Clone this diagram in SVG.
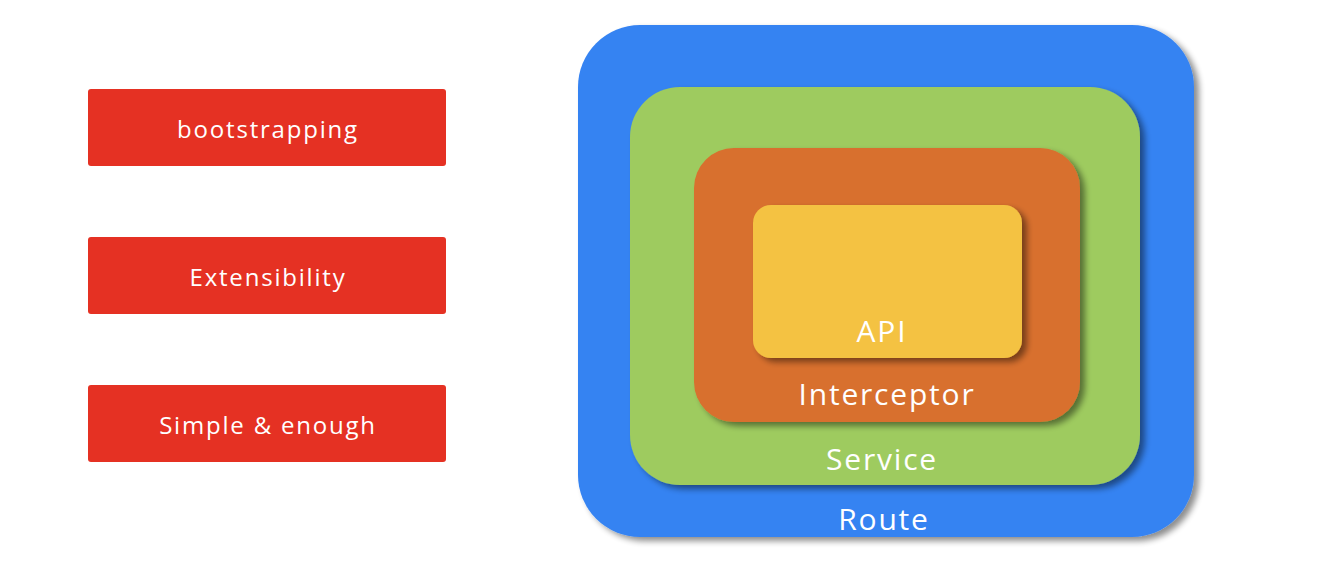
<svg xmlns="http://www.w3.org/2000/svg" width="1328" height="580" viewBox="0 0 1328 580">
<style>
.red{fill:#E53123}
.lbl{font-family:"Open Sans","Liberation Sans",sans-serif;fill:#FFFFFF;text-anchor:middle}
.sm{font-size:24px;letter-spacing:1.8px}
.lg{font-size:30px;letter-spacing:1.8px}
</style>
<defs>
<filter id="sh" x="-10%" y="-10%" width="125%" height="125%">
<feGaussianBlur in="SourceAlpha" stdDeviation="3"/>
<feOffset dx="5" dy="4" result="b"/>
<feComponentTransfer><feFuncA type="linear" slope="0.45"/></feComponentTransfer>
<feMerge><feMergeNode/><feMergeNode in="SourceGraphic"/></feMerge>
</filter>
</defs>
<rect width="1328" height="580" fill="#FFFFFF"/>
<g id="bootstrapping">
<rect class="red" x="88" y="89" width="358" height="77" rx="3"/>
<text class="lbl sm" x="268" y="138">bootstrapping</text>
</g>
<g id="extensibility">
<rect class="red" x="88" y="237" width="358" height="77" rx="3"/>
<text class="lbl sm" x="268" y="286">Extensibility</text>
</g>
<g id="simple">
<rect class="red" x="88" y="385" width="358" height="77" rx="3"/>
<text class="lbl sm" x="268" y="434">Simple &amp; enough</text>
</g>
<g id="route">
<rect x="578" y="25" width="616" height="512" rx="62" fill="#3683F2" filter="url(#sh)"/>
<text class="lbl lg" x="884" y="530">Route</text>
</g>
<g id="service">
<rect x="630" y="87" width="510" height="398" rx="50" fill="#9ECB5F" filter="url(#sh)"/>
<text class="lbl lg" x="882" y="470">Service</text>
</g>
<g id="interceptor">
<rect x="694" y="148" width="386" height="274" rx="40" fill="#D8702D" filter="url(#sh)"/>
<text class="lbl lg" x="887" y="405">Interceptor</text>
</g>
<g id="api">
<rect x="753" y="205" width="269" height="153" rx="18" fill="#F4C242" filter="url(#sh)"/>
<text class="lbl lg" x="882" y="342">API</text>
</g>
<g id="connectors"/>
</svg>
